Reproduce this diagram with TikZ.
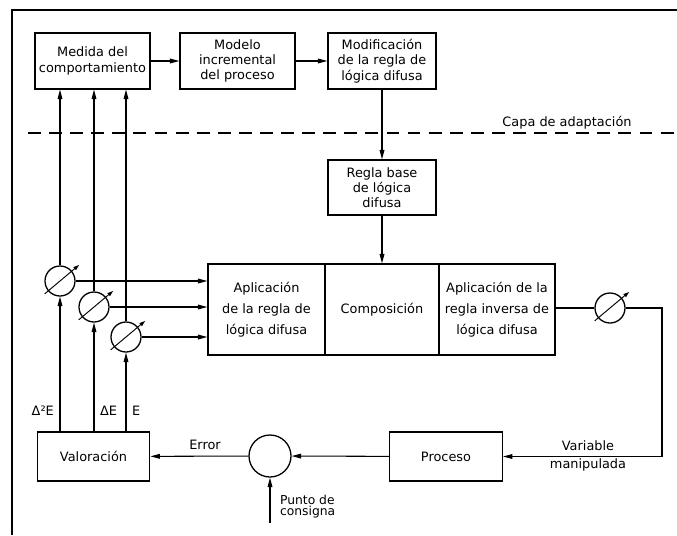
\documentclass[tikz,border=0pt]{standalone}
\usepackage{fontspec}
\setmainfont{DejaVu Sans}
\usetikzlibrary{arrows.meta}

\begin{document}
\begin{tikzpicture}[x=0.03cm,y=-0.03cm,
  caja/.style={draw,line width=1.1pt,align=center,inner sep=1pt,font=\fontsize{11}{13}\selectfont},
  arriba/.style={caja,minimum height=1.68cm},
  bloque/.style={caja,minimum height=2.73cm,font=\fontsize{11}{18}\selectfont},
  abajo/.style={caja,minimum width=3.38cm,minimum height=1.47cm},
  medidor/.style={draw,circle,line width=1.1pt,minimum size=0.9cm,inner sep=0pt},
  flecha/.style={line width=0.9pt,-{Triangle[length=8pt,width=4pt]}},
  etiqueta/.style={font=\fontsize{11}{13}\selectfont}]
\useasboundingbox (0,0) rectangle (677,535);
\draw [line width=2.2pt] (12,535) -- (12,10) -- (677,10);

\node[arriba,minimum width=3.45cm] (medida) at (92.5,61) {Medida del\\comportamiento};
\node[arriba,minimum width=3.45cm] (modelo) at (237.5,61) {Modelo\\incremental\\del proceso};
\node[arriba,minimum width=3.24cm] (modif) at (382,61) {Modificación\\de la regla de\\lógica difusa};
\node[caja,minimum width=3.24cm,minimum height=1.65cm] (regla) at (382,187.5) {Regla base\\de lógica\\difusa};

\node[bloque,minimum width=3.51cm] (aplic) at (266.5,309.5) {Aplicación\\de la regla de\\lógica difusa};
\node[bloque,minimum width=3.42cm] (comp) at (382,309.5) {Composición};
\node[bloque,minimum width=3.48cm] (inversa) at (497,309.5) {Aplicación de la\\regla inversa de\\lógica difusa};

\node[abajo] (valor) at (93.5,456.5) {Valoración};
\node[abajo] (proceso) at (446,456.5) {Proceso};
\node[draw,circle,line width=1.1pt,minimum size=1.26cm,inner sep=0pt] (suma) at (270,456) {};

\node[medidor] (m1) at (60,281) {};
\node[medidor] (m2) at (94,307) {};
\node[medidor] (m3) at (126,337) {};
\node[medidor] (m4) at (610,308) {};

\coordinate (d1) at (28,133);
\coordinate (d2) at (677,133);
\coordinate (esq) at (662,456.5);
\coordinate (consigna) at (270,523);

\draw [line width=0.9pt,dash pattern=on 11pt off 7pt] (d1) -- (d2);
\node[etiqueta] (capa) at (567,123) {Capa de adaptación};

\draw [flecha] (medida) -- (modelo);
\draw [flecha] (modelo) -- (modif);
\draw [flecha] (modif) -- (regla);
\draw [flecha] (regla) -- (comp);

\foreach \m in {m1,m2,m3}{
  \draw [flecha] (\m.north) -- (\m.north |- medida.south);
  \draw [flecha] (\m.east) -- (\m.east -| aplic.west);
  \draw [flecha] (\m |- valor.north) -- (\m.south);
}
\foreach \m in {m1,m2,m3,m4}
  \draw [line width=0.8pt,-{Triangle[length=5pt,width=3.2pt]}] ([shift={(220:0.6cm)}]\m.center) -- ([shift={(40:0.75cm)}]\m.center);

\draw [line width=0.9pt] (inversa.east |- m4.west) -- (m4.west);
\draw [flecha] (m4.east) -| (esq) -- (proceso.east);
\draw [flecha] (proceso) -- (suma);
\draw [flecha] (suma) -- (valor);
\draw [flecha] (consigna) -- (suma.south);

\node[etiqueta] (error) at (205,445) {Error};
\node[etiqueta,align=center,font=\fontsize{11}{16}\selectfont] (manip) at (588,456) {Variable\\manipulada};
\node[anchor=west,align=left,font=\fontsize{10.5}{9.5}\selectfont] (punto) at (276,507) {Punto de\\consigna};
\node[etiqueta,anchor=east] (d2e) at (58,411) {Δ²E};
\node[etiqueta,anchor=west] (de) at (96,411) {ΔE};
\node[etiqueta,anchor=west] (e) at (128,411) {E};

\end{tikzpicture}
\end{document}
